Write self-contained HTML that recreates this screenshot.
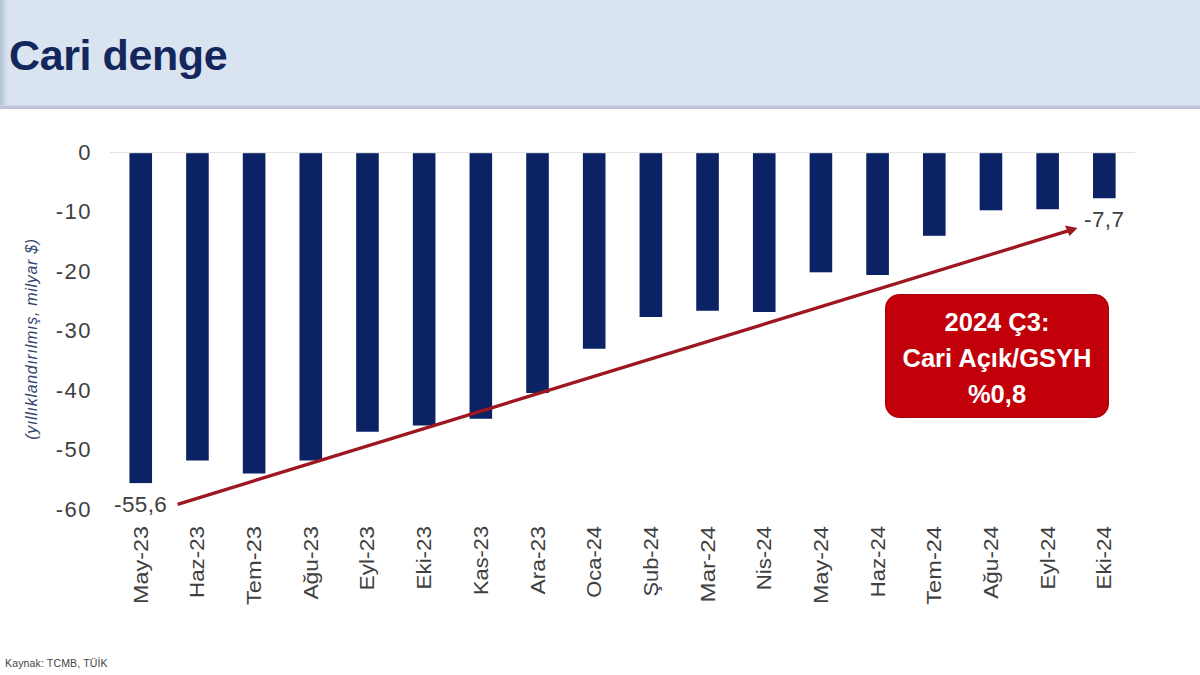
<!DOCTYPE html>
<html><head><meta charset="utf-8"><style>
*{margin:0;padding:0;box-sizing:border-box}
html,body{width:1200px;height:675px;overflow:hidden;background:#fff}
body{position:relative;font-family:"Liberation Sans",sans-serif}
#hdr{position:absolute;left:0;top:0;width:1200px;height:105px;background:#dae3f0}
#hdr .ls{position:absolute;left:0;top:0;width:8px;height:105px;background:linear-gradient(90deg,#b3c5d5 0,#b8c9d8 2px,#c8d6e4 4px,#dae3f0 8px)}
#hdr .bb{position:absolute;left:0;top:105px;width:1200px;height:4px;background:linear-gradient(180deg,#d3d6ee 0,#cfd2ea 1px,#c2c4d8 1.5px,#c0c2d6 3.5px,#e4e4ec 4px)}
#title{position:absolute;left:9px;top:30px;font-weight:bold;font-size:43px;line-height:50px;color:#13275c;letter-spacing:-0.4px}
.yl{position:absolute;right:1108px;letter-spacing:1.5px;transform:translateY(-50%);font-size:22px;line-height:24px;color:#404040}
.xl{position:absolute;top:526px;font-size:20.5px;line-height:22px;color:#404040;white-space:nowrap;transform-origin:0 0}
#ytitle{position:absolute;left:32px;top:339px;font-style:italic;font-size:16px;line-height:16px;color:#34476f;white-space:nowrap;letter-spacing:0.7px;transform:translate(-50%,-50%) rotate(-90deg)}
.dl{position:absolute;font-size:22.5px;letter-spacing:0.4px;line-height:24px;color:#404040}
#box{position:absolute;left:885px;top:294px;width:224px;height:124px;background:#c2000a;border:1.5px solid #a8000a;border-radius:14px;color:#fff;font-weight:bold;font-size:25.5px;line-height:36px;text-align:center;padding-top:8.5px}
#src{position:absolute;left:5px;top:657px;font-size:10.5px;letter-spacing:0.15px;line-height:12px;color:#444}
svg{position:absolute;left:0;top:0}
</style></head><body>
<div id="hdr"><div class="ls"></div><div class="bb"></div></div>
<div id="title">Cari denge</div>
<svg width="1200" height="675" viewBox="0 0 1200 675">
<line x1="110" y1="152.5" x2="1135" y2="152.5" stroke="#e3e3e3" stroke-width="1"/>
<g fill="#0b2265">
<rect x="129.45" y="153.2" width="22.6" height="329.90"/>
<rect x="186.13" y="153.2" width="22.6" height="307.30"/>
<rect x="242.81" y="153.2" width="22.6" height="320.30"/>
<rect x="299.49" y="153.2" width="22.6" height="307.30"/>
<rect x="356.17" y="153.2" width="22.6" height="278.55"/>
<rect x="412.85" y="153.2" width="22.6" height="272.30"/>
<rect x="469.53" y="153.2" width="22.6" height="265.55"/>
<rect x="526.21" y="153.2" width="22.6" height="239.80"/>
<rect x="582.89" y="153.2" width="22.6" height="195.55"/>
<rect x="639.57" y="153.2" width="22.6" height="163.80"/>
<rect x="696.25" y="153.2" width="22.6" height="157.55"/>
<rect x="752.93" y="153.2" width="22.6" height="158.80"/>
<rect x="809.61" y="153.2" width="22.6" height="119.10"/>
<rect x="866.29" y="153.2" width="22.6" height="121.80"/>
<rect x="922.97" y="153.2" width="22.6" height="82.60"/>
<rect x="979.65" y="153.2" width="22.6" height="57.10"/>
<rect x="1036.33" y="153.2" width="22.6" height="56.05"/>
<rect x="1093.01" y="153.2" width="22.6" height="45.05"/>
</g>
<line x1="177.6" y1="504.3" x2="1068" y2="230.8" stroke="#9e1620" stroke-width="3.3"/>
<polygon points="1077.5,228 1065,225.5 1069.5,236" fill="#9e1620"/>
</svg>
<div class="yl" style="top:152.50px">0</div>
<div class="yl" style="top:212.00px">-10</div>
<div class="yl" style="top:271.50px">-20</div>
<div class="yl" style="top:331.00px">-30</div>
<div class="yl" style="top:390.50px">-40</div>
<div class="yl" style="top:450.00px">-50</div>
<div class="yl" style="top:509.50px">-60</div>
<div class="xl" style="left:140.75px;transform:rotate(-90deg) scaleX(1.1400) translate(-100%,-50%)">May-23</div>
<div class="xl" style="left:197.43px;transform:rotate(-90deg) scaleX(1.0887) translate(-100%,-50%)">Haz-23</div>
<div class="xl" style="left:254.11px;transform:rotate(-90deg) scaleX(1.1553) translate(-100%,-50%)">Tem-23</div>
<div class="xl" style="left:310.79px;transform:rotate(-90deg) scaleX(1.1133) translate(-100%,-50%)">Ağu-23</div>
<div class="xl" style="left:367.47px;transform:rotate(-90deg) scaleX(1.1111) translate(-100%,-50%)">Eyl-23</div>
<div class="xl" style="left:424.15px;transform:rotate(-90deg) scaleX(1.0926) translate(-100%,-50%)">Eki-23</div>
<div class="xl" style="left:480.83px;transform:rotate(-90deg) scaleX(1.0607) translate(-100%,-50%)">Kas-23</div>
<div class="xl" style="left:537.51px;transform:rotate(-90deg) scaleX(1.1136) translate(-100%,-50%)">Ara-23</div>
<div class="xl" style="left:594.19px;transform:rotate(-90deg) scaleX(1.0656) translate(-100%,-50%)">Oca-24</div>
<div class="xl" style="left:650.87px;transform:rotate(-90deg) scaleX(1.0675) translate(-100%,-50%)">Şub-24</div>
<div class="xl" style="left:707.55px;transform:rotate(-90deg) scaleX(1.1770) translate(-100%,-50%)">Mar-24</div>
<div class="xl" style="left:764.23px;transform:rotate(-90deg) scaleX(1.0857) translate(-100%,-50%)">Nis-24</div>
<div class="xl" style="left:820.91px;transform:rotate(-90deg) scaleX(1.1415) translate(-100%,-50%)">May-24</div>
<div class="xl" style="left:877.59px;transform:rotate(-90deg) scaleX(1.0774) translate(-100%,-50%)">Haz-24</div>
<div class="xl" style="left:934.27px;transform:rotate(-90deg) scaleX(1.1515) translate(-100%,-50%)">Tem-24</div>
<div class="xl" style="left:990.95px;transform:rotate(-90deg) scaleX(1.1000) translate(-100%,-50%)">Ağu-24</div>
<div class="xl" style="left:1047.63px;transform:rotate(-90deg) scaleX(1.0926) translate(-100%,-50%)">Eyl-24</div>
<div class="xl" style="left:1104.31px;transform:rotate(-90deg) scaleX(1.0926) translate(-100%,-50%)">Eki-24</div>
<div id="ytitle">(yıllıklandırılmış, milyar $)</div>
<div class="dl" style="left:114px;top:493px">-55,6</div>
<div class="dl" style="left:1084px;top:208px">-7,7</div>
<div id="box">2024 Ç3:<br>Cari Açık/GSYH<br>%0,8</div>
<div id="src">Kaynak: TCMB, TÜİK</div>
</body></html>
